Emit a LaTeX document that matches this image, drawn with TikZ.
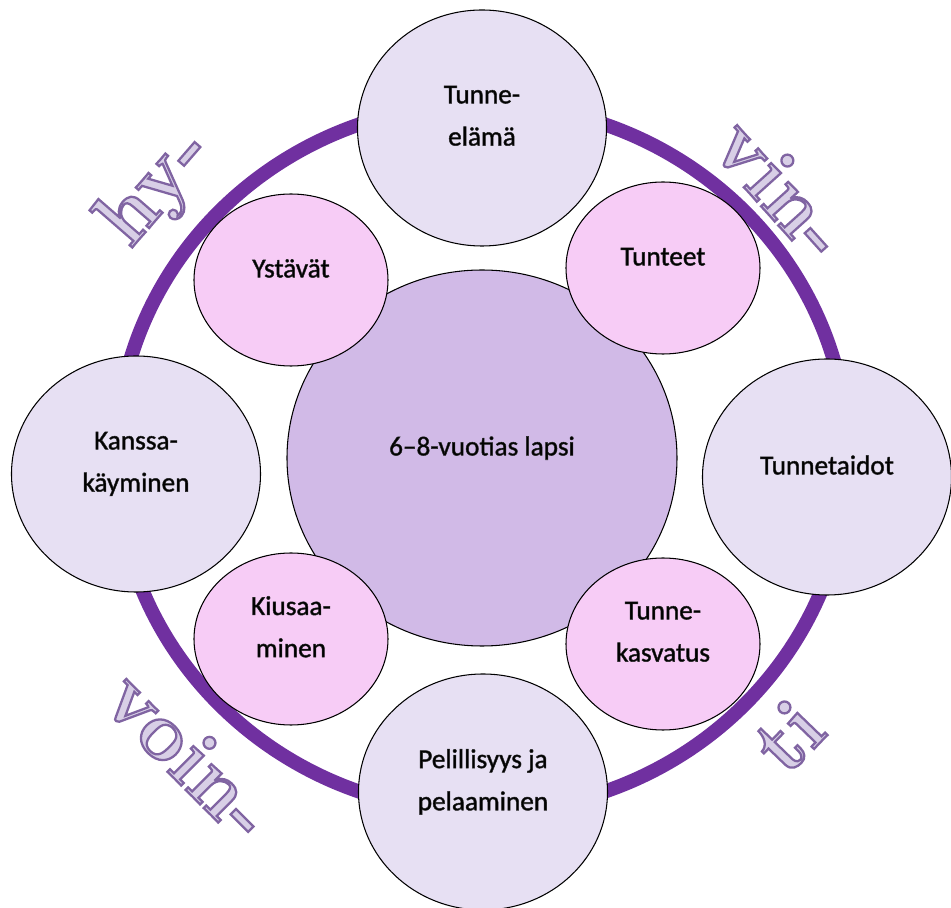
\documentclass[tikz,border=0pt]{standalone}
\usepackage{fontspec}
\newfontfamily\labelfont{Carlito}
\usetikzlibrary{shapes.geometric}
\definecolor{cRing}{HTML}{7030A0}
\definecolor{cCore}{HTML}{D1BAE7}
\definecolor{cOuter}{HTML}{E7E0F3}
\definecolor{cInner}{HTML}{F7CCF6}
\definecolor{cWord}{HTML}{D8CFE6}
% letters filled and stroked (outline colour 8064A2)
\newcommand\outlined[1]{%
  \special{pdf:literal direct 2 Tr 1.3 w 0.502 0.392 0.635 RG}#1%
  \special{pdf:literal direct 0 Tr}}

\begin{document}
\begin{tikzpicture}[
    ring/.style={ellipse, draw=cRing, line width=8pt,
                  minimum width=14.64cm, minimum height=14.16cm},
    txt/.style={font=\labelfont\fontsize{15.5}{24}\selectfont, align=center,
                  inner sep=0pt,
                  execute at begin node={\rule{0pt}{11pt}%
                    \special{pdf:literal direct 2 Tr 0.3 w 0.15 0.15 0.15 RG}},
                  execute at end node={\special{pdf:literal direct 0 Tr}%
                    \rule[-14pt]{0pt}{14pt}}},
    core/.style={ellipse, draw=black, fill=cCore, line width=0.6pt, txt,
                  minimum width=7.8cm, minimum height=7.52cm},
    satellite/.style={ellipse, draw=black, fill=cOuter, line width=0.6pt, txt,
                  minimum width=4.98cm, minimum height=4.72cm},
    leaf/.style={ellipse, draw=black, fill=cInner, line width=0.6pt, txt,
                  minimum width=3.88cm, minimum height=3.44cm},
    word/.style={font=\fontsize{47}{47}\selectfont\bfseries, text=cWord,
                  inner sep=0pt},
  ]
    \useasboundingbox (-9.64,-9.0) rectangle (9.38,9.16);

    % --- ring and core ----------------------------------------------------
    \node[ring] (ring) at (0,0) {};
    \node[core] (c) at (0,0) {6–8-vuotias lapsi};

    % --- four small circles round the core ---------------------------------
    \node[leaf] (l1) at (-3.82,3.56) {Ystävät};
    \node[leaf] (l2) at (3.62,3.8)   {Tunteet};
    \node[leaf] (l3) at (-3.82,-3.62) {Kiusaa-\\minen};
    \node[leaf] (l4) at (3.62,-3.72) {Tunne-\\kasvatus};

    % --- four big circles on the ring ---------------------------------------
    \node[satellite] (s1) at (0,6.6)       {Tunne-\\elämä};
    \node[satellite] (s2) at (6.9,-0.38)   {Tunnetaidot};
    \node[satellite] (s3) at (0.02,-6.68)  {Pelillisyys ja\\pelaaminen};
    \node[satellite] (s4) at (-6.92,-0.32) {Kanssa-\\käyminen};

    % --- the word round the ring -------------------------------------------
    \node[word, rotate=49]  (w1) at (-6.5,5.4)    {\outlined{hy-}};
    \node[word, rotate=-48] (w2) at (6.0,5.4)     {\outlined{vin-}};
    \node[word, rotate=-45] (w3) at (-5.84,-5.94) {\outlined{voin-}};
    \node[word, rotate=46]  (w4) at (6.12,-5.56)  {\outlined{ti}};
  \end{tikzpicture}
\end{document}
